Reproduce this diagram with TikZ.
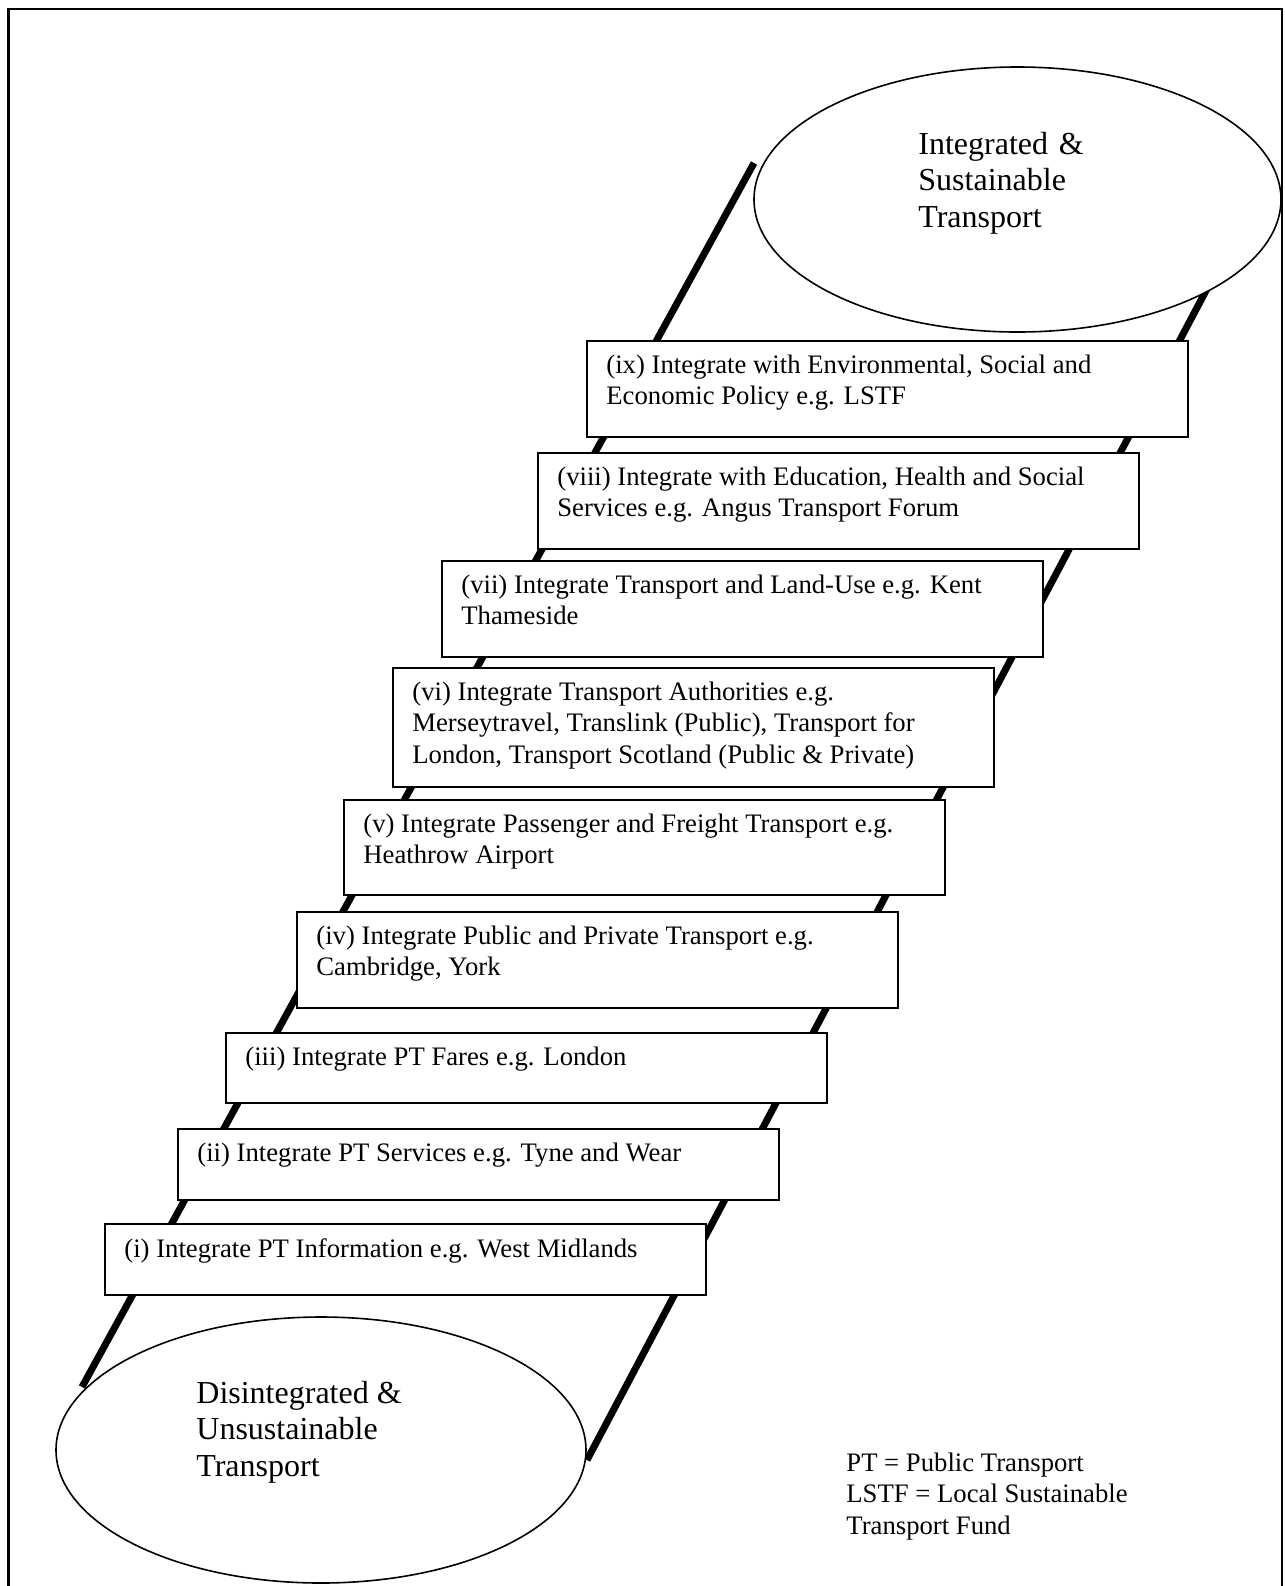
\documentclass[tikz,border=0pt]{standalone}
\usepackage{fontspec}
\setmainfont{Liberation Serif}
\usetikzlibrary{shapes.geometric,calc}
\tikzset{
  frameline/.style={line width=1.4pt},
  rail/.style={line width=3.5pt, line cap=butt},
  stepbox/.style={draw, line width=0.9pt, fill=white, rectangle, inner sep=0pt, minimum width=300.5pt, anchor=north west},
  boxtext/.style={inner sep=0pt, anchor=base west, font=\fontsize{13.35}{15.8}\selectfont},
  endell/.style={draw, ellipse, line width=0.8pt, fill=white, inner sep=0pt},
  bigtext/.style={inner sep=0pt, anchor=base west, font=\fontsize{16}{18.3}\selectfont},
}
\newcommand{\steptxt}[1]{\parbox[t]{295pt}{#1}}
\begin{document}
\begin{tikzpicture}[x=0.5pt,y=-0.5pt]
\useasboundingbox (0,0) rectangle (1285,1586);
% frame
\draw[frameline] (8.7,1600) -- (8.7,9) -- (1282,9) -- (1282,1600);
% rail end points
\coordinate (lb) at (82,1387);
\coordinate (lt) at (754,163);
\coordinate (rb) at (587,1460);
\coordinate (rt) at (1209,285);
\draw[rail] (lb) -- (lt);
\draw[rail] (rb) -- (rt);
% ellipses
\node[endell, minimum width=263.5pt, minimum height=132.5pt] (top) at (1017.5,199.5) {};
\node[endell, minimum width=265pt, minimum height=133pt] (bot) at (321,1450) {};
\node[bigtext, text width=120pt, align=left] (toptext) at (918,154) {\parbox[t]{120pt}{Integrated \&\\ Sustainable\\ Transport}};
\node[bigtext] (bottext) at (196,1403) {\parbox[t]{120pt}{Disintegrated \&\\ Unsustainable\\ Transport}};
% step boxes
\node[stepbox, minimum height=48pt] (b9) at (586,340) {};
\node[stepbox, minimum height=48pt] (b8) at (537,452) {};
\node[stepbox, minimum height=48pt] (b7) at (441,560) {};
\node[stepbox, minimum height=59.5pt] (b6) at (392,667) {};
\node[stepbox, minimum height=47.5pt] (b5) at (343,799) {};
\node[stepbox, minimum height=48pt] (b4) at (296,911) {};
\node[stepbox, minimum height=35pt] (b3) at (225,1032) {};
\node[stepbox, minimum height=35.5pt] (b2) at (177,1128) {};
\node[stepbox, minimum height=35.5pt] (b1) at (104,1223) {};
% step texts
\node[boxtext] (t9) at ($(b9.north west)+(20,33)$) {\steptxt{(ix) Integrate with Environmental, Social and\\ Economic Policy e.g. LSTF}};
\node[boxtext] (t8) at ($(b8.north west)+(20,33)$) {\steptxt{(viii) Integrate with Education, Health and Social\\ Services e.g. Angus Transport Forum}};
\node[boxtext] (t7) at ($(b7.north west)+(20,33)$) {\steptxt{(vii) Integrate Transport and Land-Use e.g. Kent\\ Thameside}};
\node[boxtext] (t6) at ($(b6.north west)+(20,33)$) {\steptxt{(vi) Integrate Transport Authorities e.g.\\ Merseytravel, Translink (Public), Transport for\\ London, Transport Scotland (Public \& Private)}};
\node[boxtext] (t5) at ($(b5.north west)+(20,33)$) {\steptxt{(v) Integrate Passenger and Freight Transport e.g.\\ Heathrow Airport}};
\node[boxtext] (t4) at ($(b4.north west)+(20,33)$) {\steptxt{(iv) Integrate Public and Private Transport e.g.\\ Cambridge, York}};
\node[boxtext] (t3) at ($(b3.north west)+(20,33)$) {\steptxt{(iii) Integrate PT Fares e.g. London}};
\node[boxtext] (t2) at ($(b2.north west)+(20,33)$) {\steptxt{(ii) Integrate PT Services e.g. Tyne and Wear}};
\node[boxtext] (t1) at ($(b1.north west)+(20,34)$) {\steptxt{(i) Integrate PT Information e.g. West Midlands}};
% legend
\node[boxtext] (legend) at (846,1471) {\steptxt{PT = Public Transport\\ LSTF = Local Sustainable\\ Transport Fund}};
\end{tikzpicture}
\end{document}
